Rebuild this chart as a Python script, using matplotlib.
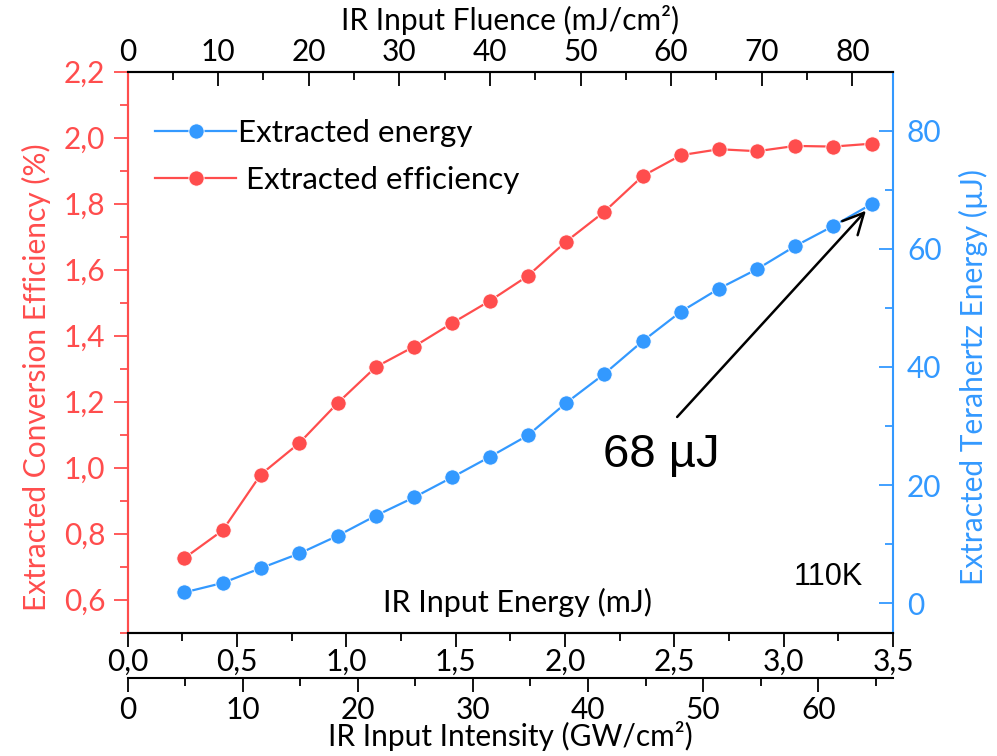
import matplotlib
matplotlib.use("Agg")
import matplotlib.pyplot as plt
from matplotlib.ticker import MultipleLocator, FuncFormatter

# ---------------- data ----------------
ir_energy_mJ = [0.260, 0.435, 0.609, 0.786, 0.961, 1.135, 1.310, 1.484, 1.658, 1.830,
                2.005, 2.179, 2.356, 2.531, 2.705, 2.879, 3.053, 3.227, 3.406]
efficiency_pct = [0.726, 0.810, 0.979, 1.075, 1.196, 1.305, 1.367, 1.438, 1.506, 1.581,
                  1.685, 1.775, 1.884, 1.947, 1.965, 1.959, 1.975, 1.973, 1.982]
thz_energy_uJ = [1.8, 3.4, 5.9, 8.4, 11.4, 14.8, 17.9, 21.3, 24.8, 28.4,
                 33.9, 38.8, 44.4, 49.4, 53.3, 56.6, 60.5, 63.9, 67.7]
FLUENCE_PER_MJ = 24.14     # mJ/cm^2 per mJ
INTENSITY_PER_MJ = 19.0    # GW/cm^2 per mJ

RED = "#FF4D4D"
BLUE = "#3399FF"
FS = 21.5

plt.rcParams["font.family"] = ["Lato", "DejaVu Sans"]

fig = plt.figure(figsize=(9.97, 7.56), dpi=100)
ax = fig.add_axes([0.1279, 0.1631, 0.8957 - 0.1279, 0.9052 - 0.1631])
ax2 = ax.twinx()

comma1 = FuncFormatter(lambda v, p: f"{v:.1f}".replace(".", ","))

# red series (left axis)
l_red, = ax.plot(ir_energy_mJ, efficiency_pct, "-o", color=RED, lw=1.6,
                 ms=11, mec="white", mew=0.6, zorder=3)
# blue series (right axis)
l_blue, = ax2.plot(ir_energy_mJ, thz_energy_uJ, "-o", color=BLUE, lw=1.6,
                   ms=11, mec="white", mew=0.6, zorder=3)

ax.set_xlim(0, 3.5)
ax.set_ylim(0.5, 2.2)
ax2.set_ylim(-5.03, 90.05)

# x axis (energy)
ax.xaxis.set_major_locator(MultipleLocator(0.5))
ax.xaxis.set_minor_locator(MultipleLocator(0.25))
ax.xaxis.set_major_formatter(comma1)
ax.tick_params(axis="x", which="major", direction="out", length=10, width=1.3,
               labelsize=FS, pad=1, color="black")
ax.tick_params(axis="x", which="minor", direction="out", length=6, width=1.3)

# left y axis
ax.yaxis.set_major_locator(MultipleLocator(0.2))
ax.yaxis.set_minor_locator(MultipleLocator(0.1))
ax.yaxis.set_major_formatter(comma1)
ax.tick_params(axis="y", which="major", direction="out", length=10, width=1.3,
               labelsize=FS, pad=6, color=RED, labelcolor=RED)
ax.tick_params(axis="y", which="minor", direction="out", length=6, width=1.3, color=RED)
ax.set_ylabel("Extracted Conversion Efficiency (%)", color=RED, fontsize=FS)
ax.yaxis.set_label_coords(-0.100, 0.456)

# right y axis
ax2.yaxis.set_major_locator(MultipleLocator(20))
ax2.yaxis.set_minor_locator(MultipleLocator(10))
ax2.tick_params(axis="y", which="major", direction="in", length=10, width=1.3,
                labelsize=FS, pad=10, color=BLUE, labelcolor=BLUE)
ax2.tick_params(axis="y", which="minor", direction="in", length=6, width=1.3, color=BLUE)
ax2.set_ylabel("Extracted Terahertz Energy (µJ)", color=BLUE, fontsize=FS)
ax2.yaxis.set_label_coords(1.086, 0.456)

for a in (ax, ax2):
    for s in a.spines.values():
        s.set_linewidth(1.5)
ax.spines["left"].set_color(RED)
ax2.spines["left"].set_color(RED)
ax2.spines["right"].set_color(BLUE)
ax.spines["right"].set_visible(False)
ax.spines["top"].set_visible(False)
ax2.spines["top"].set_color("black")
ax2.spines["bottom"].set_color("black")

# top axis: fluence
top = ax.secondary_xaxis("top", functions=(lambda e: e * FLUENCE_PER_MJ,
                                           lambda f: f / FLUENCE_PER_MJ))
top.xaxis.set_major_locator(MultipleLocator(10))
top.xaxis.set_minor_locator(MultipleLocator(5))
top.tick_params(axis="x", which="major", direction="in", length=10, width=1.3,
                labelsize=FS, pad=4)
top.tick_params(axis="x", which="minor", direction="in", length=6, width=1.3)
top.spines["top"].set_linewidth(1.5)
top.set_xlabel("IR Input Fluence (mJ/cm²)", fontsize=FS, labelpad=6)
top.yaxis.set_visible(False)

# bottom offset axis: intensity
bot = ax.secondary_xaxis(-0.0802, functions=(lambda e: e * INTENSITY_PER_MJ,
                                             lambda i: i / INTENSITY_PER_MJ))
bot.xaxis.set_major_locator(MultipleLocator(10))
bot.xaxis.set_minor_locator(MultipleLocator(5))
bot.tick_params(axis="x", which="major", direction="out", length=10, width=1.3,
                labelsize=FS, pad=3)
bot.tick_params(axis="x", which="minor", direction="out", length=6, width=1.3)
bot.spines["bottom"].set_linewidth(1.5)
bot.set_xlabel("IR Input Intensity (GW/cm²)", fontsize=FS, labelpad=-2)
bot.yaxis.set_visible(False)

# in-plot texts
ax.text(0.509, 0.0547, "IR Input Energy (mJ)", transform=ax.transAxes,
        ha="center", va="center", fontsize=FS + 0.5)
ax.text(0.915, 0.0993, "110K", transform=ax.transAxes, ha="center", va="center",
        fontsize=22, family="Liberation Sans")
ax2.text(0.621, 0.2954, "68 µJ", transform=ax2.transAxes, ha="left", va="baseline",
         fontsize=34, family="Liberation Sans")
ax2.annotate("", xy=(ir_energy_mJ[-1], thz_energy_uJ[-1]), xycoords="data",
             xytext=(0.718, 0.3845), textcoords="axes fraction",
             arrowprops=dict(arrowstyle="->,head_length=0.6,head_width=0.3",
                             lw=1.8, color="black", shrinkA=0, shrinkB=7,
                             mutation_scale=25))

# legend
ax2.legend([l_blue, l_red], ["Extracted energy", " Extracted efficiency"],
           loc="upper left", bbox_to_anchor=(0.036, 0.916), frameon=False,
           borderpad=0, borderaxespad=0, handlelength=2.6, handletextpad=0.05,
           labelspacing=0.6, fontsize=22.5)

fig.savefig("out.png", dpi=100)
